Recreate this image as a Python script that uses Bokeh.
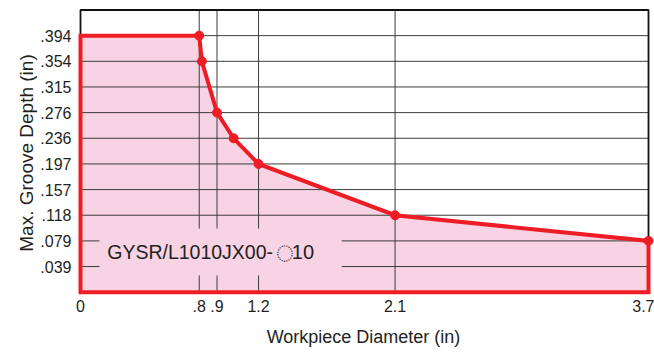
from bokeh.plotting import figure
from bokeh.models import FixedTicker
from bokeh.core.properties import value
from bokeh.embed import file_html
from bokeh.resources import INLINE

# ---- data (underlying chart units: mm; labels in inches) ----
diam = [0, 20, 20.45, 23, 25.8, 30, 53, 95.7]          # workpiece diameter
depth = [10, 10, 9, 7, 6, 5, 3, 2]                      # max groove depth
dot_diam = [20, 20.45, 23, 25.8, 30, 53, 95.7]
dot_depth = [10, 9, 7, 6, 5, 3, 2]

x_tick_pos = [0, 20, 23, 30, 53, 95.7]
x_tick_lab = ["0", ".8", ".9", "1.2", "2.1", "3.7"]
y_tick_pos = [1, 2, 3, 4, 5, 6, 7, 8, 9, 10]
y_tick_lab = [".039", ".079", ".118", ".157", ".197", ".236", ".276", ".315", ".354", ".394"]
v_grid = [20, 23, 30, 53]
x_max, y_max = 95.7, 11

label_parts = ["GYSR/L1010JX00-", "\u25cc", "10"]

RED = "#ee1c25"
PINK = "#f8d3e3"
GRID = "#3c3c3c"
TXT = "#231f20"
FONT = "Liberation Sans"

# ---- layout (pixels) ----
W, H = 654, 354
ML, MR, MT, MB = 72, 0, 8, 57
FW, FH = W - ML - MR, H - MT - MB
pad_l, pad_r, pad_t, pad_b = 8, 6, 1.5, 5.3
kx = (FW - pad_l - pad_r) / x_max
ky = (FH - pad_t - pad_b) / y_max

p = figure(width=W, height=H, output_backend="svg", toolbar_location=None,
           x_range=(-pad_l / kx, x_max + pad_r / kx),
           y_range=(-pad_b / ky, y_max + pad_t / ky),
           min_border_left=ML, min_border_right=MR, min_border_top=MT, min_border_bottom=MB)
p.outline_line_color = None
p.xgrid.visible = False
p.ygrid.visible = False
p.background_fill_color = "white"
p.border_fill_color = "white"

# fill area
poly_x = diam + [x_max, 0]
poly_y = depth + [0, 0]
p.patch(poly_x, poly_y, fill_color=PINK, line_color=None)

# grid lines
p.segment(x0=[0] * len(y_tick_pos), y0=y_tick_pos, x1=[x_max] * len(y_tick_pos), y1=y_tick_pos,
          line_color=GRID, line_width=1)
p.segment(x0=v_grid, y0=[0] * len(v_grid), x1=v_grid, y1=[y_max] * len(v_grid),
          line_color=GRID, line_width=1)
# frame
p.line([0, 0, x_max, x_max], [0, y_max, y_max, 0], line_color="#111111", line_width=1.8)

# label box covering grid
p.quad(left=[3.2], right=[44.0], bottom=[0.65], top=[2.48], fill_color=PINK, line_color=None)
p.text(x=[4.5], y=[1.55], text=[label_parts[0]],
       text_font=value(FONT), text_font_size="19.5px",
       text_color=TXT, text_baseline="middle", text_align="left")
p.text(x=[34.45], y=[1.55], text=[label_parts[1]],
       text_font=value("Noto Sans CJK JP"), text_font_size="17px",
       text_color=TXT, text_baseline="middle", text_align="center")
p.text(x=[35.6], y=[1.55], text=[label_parts[2]],
       text_font=value(FONT), text_font_size="20px",
       text_color=TXT, text_baseline="middle", text_align="left")

# red outline + dots
p.patch(poly_x, poly_y, fill_color=None, line_color=RED, line_width=4, line_join="miter")
p.scatter(dot_diam, dot_depth, size=9, color=RED)

# axes
for ax in (p.xaxis[0], p.yaxis[0]):
    ax.axis_line_color = None
    ax.major_tick_line_color = None
    ax.minor_tick_line_color = None
    ax.major_tick_out = 0
    ax.major_tick_in = 0
    ax.major_label_text_font = FONT
    ax.major_label_text_font_size = "16px"
    ax.major_label_text_color = TXT
    ax.axis_label_text_font = FONT
    ax.axis_label_text_font_size = "18px"
    ax.axis_label_text_font_style = "normal"
    ax.axis_label_text_color = TXT

p.xaxis.ticker = FixedTicker(ticks=x_tick_pos)
p.xaxis.major_label_overrides = dict(zip(x_tick_pos, x_tick_lab))
p.xaxis.axis_label = "Workpiece Diameter (in)"
p.xaxis.major_label_standoff = 2
p.xaxis.axis_label_standoff = 12

p.yaxis.ticker = FixedTicker(ticks=y_tick_pos)
p.yaxis.major_label_overrides = dict(zip(y_tick_pos, y_tick_lab))
p.yaxis.axis_label = "Max. Groove Depth (in)"
p.yaxis.axis_label_text_font_size = "19px"
p.yaxis.major_label_standoff = 1
p.yaxis.axis_label_standoff = 0

open("out.html", "w").write(file_html(p, INLINE))
